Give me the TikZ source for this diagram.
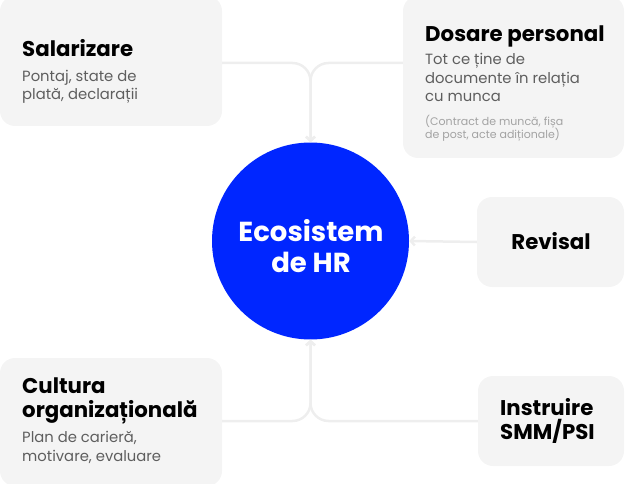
\documentclass[tikz,border=0pt]{standalone}
\usepackage{fontspec}
\setmainfont{Poppins}
\usetikzlibrary{arrows.meta,positioning}
\definecolor{cardgray}{HTML}{F4F4F4}
\definecolor{linegray}{HTML}{EEEEEE}
\definecolor{ecoblue}{HTML}{0026FF}
\definecolor{subgray}{HTML}{5E5E5E}
\definecolor{notegray}{HTML}{A3A3A3}

\begin{document}
\begin{tikzpicture}[
  x=1pt, y=-1pt,
  card/.style={rectangle, rounded corners=15pt, fill=cardgray, inner sep=0pt},
  title/.style={anchor=base west, inner sep=0pt, align=left, font=\fontsize{21.3}{24}\selectfont\bfseries},
  sub/.style={anchor=base west, inner sep=0pt, align=left, text=subgray, font=\fontsize{14.8}{18.5}\selectfont},
  note/.style={anchor=base west, inner sep=0pt, align=left, text=notegray, font=\fontsize{11}{13.5}\selectfont},
  conn/.style={draw=linegray, line width=2.5pt, rounded corners=18pt, -{Straight Barb[length=4pt,width=9pt]}},
  >=Straight Barb
]
  \useasboundingbox (0,0) rectangle (632,484);

  % Cards
  \node[card, minimum width=222pt, minimum height=130pt] (sal) at (111,61) {};
  \node[card, minimum width=221pt, minimum height=162pt] (dos) at (513.5,77) {};
  \node[card, minimum width=147pt, minimum height=90pt] (rev) at (550.5,242) {};
  \node[card, minimum width=222pt, minimum height=128pt] (cul) at (111,422) {};
  \node[card, minimum width=146pt, minimum height=90pt] (ins) at (551,421) {};

  % Centre (multi-line texts sit on their last baseline)
  \node[circle, fill=ecoblue, minimum size=197pt, inner sep=0pt] (eco) at (310.5,241) {};
  \node[anchor=base, inner sep=0pt, align=center, text=white, font=\fontsize{27.5}{31}\selectfont\bfseries] (ecot) at (311,272) {Ecosistem\\de HR};

  % Texts
  \node[title] (salt) at (22,57) {Salarizare};
  \node[sub] (sals) at (22,100) {Pontaj, state de\\plată, declarații};
  \node[title] (dost) at (425,42) {Dosare personal};
  \node[sub] (doss) at (425,102) {Tot ce ține de\\documente în relația\\cu munca};
  \node[note] (dosn) at (425,139) {(Contract de muncă, fișa\\de post, acte adiționale)};
  \node[title, anchor=base] (revt) at (551,249) {Revisal};
  \node[title] (cult) at (22,417) {Cultura\\organizațională};
  \node[sub] (culs) at (22,461) {Plan de carieră,\\motivare, evaluare};
  \node[title] (inst) at (500,439) {Instruire\\SMM/PSI};

  % Connectors
  \draw[conn] (sal.east |- 0,63) -| (eco.north);
  \draw[conn] (dos.west |- 0,63) -| (eco.north);
  \draw[conn] (rev.west) -- (eco.east);
  \draw[conn] (cul.east |- 0,421) -| (eco.south);
  \draw[conn] (ins.west |- 0,421) -| (eco.south);
\end{tikzpicture}
\end{document}
